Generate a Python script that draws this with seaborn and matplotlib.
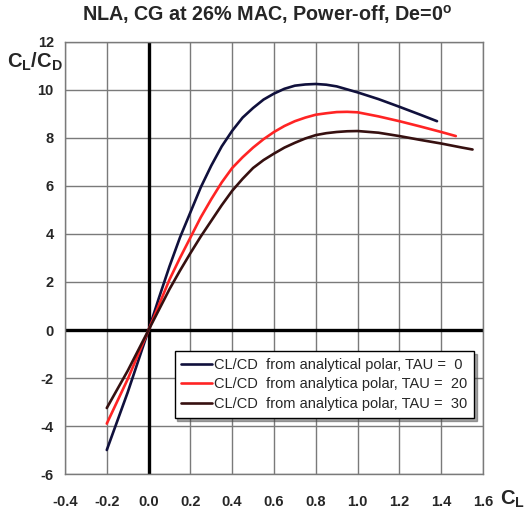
import matplotlib
matplotlib.use("Agg")
import matplotlib.pyplot as plt
import seaborn as sns
import pandas as pd

# CL/CD versus CL for three TAU settings
cl_tau0 = [-0.2, -0.1, 0.0, 0.05, 0.1, 0.15, 0.2, 0.25, 0.3, 0.35, 0.4, 0.45, 0.5, 0.55,
           0.6, 0.65, 0.7, 0.75, 0.8, 0.85, 0.9, 1.0, 1.1, 1.2, 1.3, 1.38]
ld_tau0 = [-5.0, -2.6, 0.0, 1.35, 2.65, 3.85, 4.9, 5.95, 6.85, 7.65, 8.3, 8.85, 9.25, 9.6,
           9.85, 10.05, 10.18, 10.23, 10.25, 10.22, 10.15, 9.9, 9.62, 9.3, 8.97, 8.7]

cl_tau20 = [-0.2, -0.1, 0.0, 0.05, 0.1, 0.15, 0.2, 0.25, 0.3, 0.35, 0.4, 0.45, 0.5, 0.55,
            0.6, 0.65, 0.7, 0.75, 0.8, 0.85, 0.9, 0.95, 1.0, 1.1, 1.2, 1.3, 1.4, 1.47]
ld_tau20 = [-3.9, -2.05, 0.0, 1.05, 2.1, 3.0, 3.85, 4.7, 5.45, 6.15, 6.75, 7.2, 7.6, 7.95,
            8.25, 8.5, 8.7, 8.85, 8.97, 9.03, 9.08, 9.09, 9.07, 8.9, 8.7, 8.48, 8.25, 8.08]

cl_tau30 = [-0.2, -0.1, 0.0, 0.05, 0.1, 0.15, 0.2, 0.25, 0.3, 0.35, 0.4, 0.45, 0.5, 0.55,
            0.6, 0.65, 0.7, 0.75, 0.8, 0.85, 0.9, 0.95, 1.0, 1.1, 1.2, 1.3, 1.4, 1.5, 1.55]
ld_tau30 = [-3.25, -1.7, 0.0, 0.85, 1.7, 2.47, 3.2, 3.9, 4.55, 5.2, 5.8, 6.3, 6.75, 7.08,
            7.35, 7.6, 7.8, 7.98, 8.12, 8.2, 8.25, 8.28, 8.29, 8.22, 8.08, 7.92, 7.77, 7.6, 7.52]

series_labels = [
    "CL/CD  from analytical polar, TAU =  0",
    "CL/CD  from analytica polar, TAU =  20",
    "CL/CD  from analytica polar, TAU =  30",
]
series_colors = ["#10103c", "#ff2424", "#361010"]

x_ticks = [-0.4, -0.2, 0.0, 0.2, 0.4, 0.6, 0.8, 1.0, 1.2, 1.4, 1.6]
y_ticks = [-6, -4, -2, 0, 2, 4, 6, 8, 10, 12]

frames = []
for cl, ld, lab in zip([cl_tau0, cl_tau20, cl_tau30],
                       [ld_tau0, ld_tau20, ld_tau30], series_labels):
    frames.append(pd.DataFrame({"CL": cl, "CLCD": ld, "series": lab}))
df = pd.concat(frames, ignore_index=True)

sns.set_style("white")
plt.rcParams["font.family"] = ["Liberation Sans", "DejaVu Sans"]
plt.rcParams["mathtext.fontset"] = "custom"
plt.rcParams["mathtext.rm"] = "Liberation Sans"
plt.rcParams["mathtext.bf"] = "Liberation Sans:bold"

fig = plt.figure(figsize=(5.30, 5.12), dpi=100)
ax = fig.add_axes([0.1226, 0.0742, 0.7887, 0.8438])

# grid
for x in x_ticks:
    ax.axvline(x, color="#7a7a7a", lw=1.0, zorder=0)
for y in y_ticks:
    ax.axhline(y, color="#7a7a7a", lw=1.0, zorder=0)
ax.axvline(0, color="black", lw=2.4, zorder=1)
ax.axhline(0, color="black", lw=2.4, zorder=1)

sns.lineplot(data=df, x="CL", y="CLCD", hue="series", palette=series_colors,
             sort=False, estimator=None, lw=1.9, ax=ax, zorder=3)

ax.set_xlim(-0.4, 1.6)
ax.set_ylim(-6, 12)
ax.set_xticks(x_ticks)
ax.set_yticks(y_ticks)
ax.set_xticklabels([f"{v:.1f}" for v in x_ticks], fontweight="bold", fontsize=10.5)
ax.set_yticklabels([str(v) for v in y_ticks], fontweight="bold", fontsize=10.5)
ax.tick_params(axis="x", length=0, pad=15)
ax.tick_params(axis="y", length=0, pad=8)
ax.set_xlabel("")
ax.set_ylabel("")
for s in ax.spines.values():
    s.set_color("#7a7a7a")
    s.set_linewidth(1.0)

fig.text(0.505, 0.971, r"NLA, CG at 26% MAC, Power-off, De=0$^{\mathbf{o}}$",
         ha="center", va="center", fontsize=14.2, fontweight="bold")
fig.text(0.066, 0.879, r"$\mathbf{C_L/C_D}$", ha="center", va="center", fontsize=14.5)
fig.text(0.944, 0.004, r"$\mathbf{C_L}$", ha="left", va="bottom", fontsize=14.5)

leg = ax.legend(loc="lower right", bbox_to_anchor=(0.978, 0.13), fontsize=10.5,
                frameon=True, fancybox=False, shadow=True, framealpha=1,
                edgecolor="black", handlelength=2.1, handletextpad=0.15,
                labelspacing=0.4, borderpad=0.45, borderaxespad=0)
leg.get_frame().set_linewidth(1.0)
leg.set_zorder(5)

fig.savefig("out.png", dpi=100)
